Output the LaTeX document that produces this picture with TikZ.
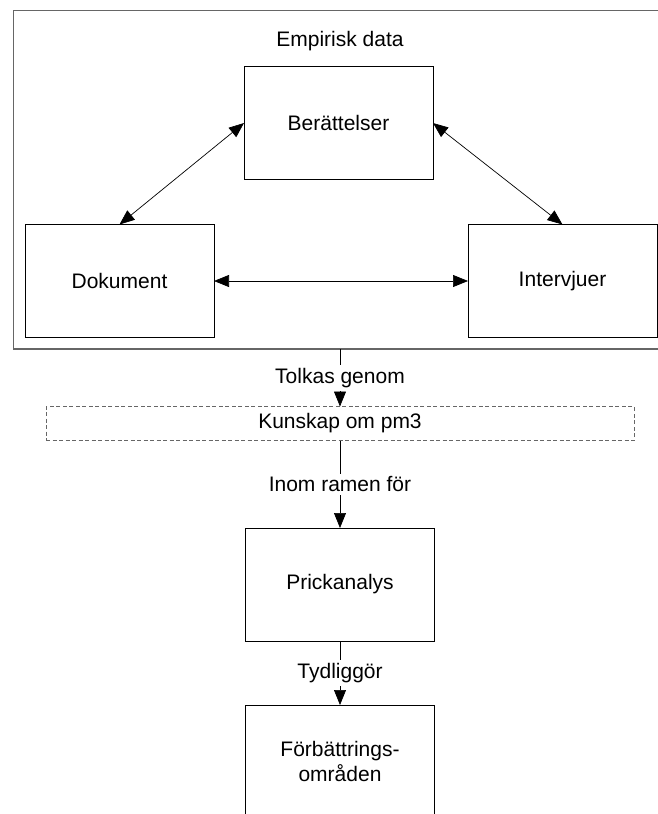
\documentclass[tikz,border=0pt]{standalone}
\usepackage{fontspec}
\setmainfont{Liberation Sans}
\usetikzlibrary{arrows.meta}
\begin{document}
\begin{tikzpicture}[x=1pt,y=-1pt,
  font=\fontsize{21}{25}\selectfont,
  every node/.style={inner sep=0pt, outer sep=0pt},
  frame/.style={draw=black!60, line width=1.4pt, rectangle},
  boxnode/.style={draw=black, line width=0.9pt, rectangle, minimum width=189pt, minimum height=113pt, align=center},
  dashbox/.style={draw=black!60, line width=0.9pt, dashed, dash pattern=on 4pt off 2.5pt, rectangle, minimum width=588pt, minimum height=34pt},
  link/.style={draw=black, line width=0.7pt},
  tip/.style={-{Triangle[length=15pt,width=12pt]}},
  biarrow/.style={{Triangle[length=15pt,width=12pt]}-{Triangle[length=15pt,width=12pt]}},
  lbl/.style={fill=white, inner sep=3pt}]
  \useasboundingbox (0,0) rectangle (658,814);
  \clip (0,0) rectangle (658,814);

  % outer frame around the data sources
  \node[frame, minimum width=654.5pt, minimum height=338.5pt] (emp) at (340.75,179.75) {};
  \node (emptitle) at (340,41) {Empirisk data};

  % data sources
  \node[boxnode] (ber) at (338.5,123) {Berättelser};
  \node[boxnode] (dok) at (119.5,281) {Dokument};
  \node[boxnode] (int) at (562.5,281) {Intervjuer};

  \draw[link, biarrow] (ber.west) -- (dok.north);
  \draw[link, biarrow] (ber.east) -- (int.north);
  \draw[link, biarrow] (dok.east) -- (int.west);

  % interpretation chain
  \node[dashbox] (kun) at (340,423.5) {Kunskap om pm3};
  \node[boxnode] (pri) at (340,584.5) {Prickanalys};
  \node[boxnode] (forb) at (340,761.5) {Förbättrings-\\områden};

  \draw[link, tip] (emp.south -| kun.north) -- node[lbl] {Tolkas genom} (kun.north);
  \draw[link, tip] (kun.south) -- node[lbl, pos=0.5] {Inom ramen för} (pri.north);
  \draw[link, tip] (pri.south) -- node[lbl] {Tydliggör} (forb.north);
\end{tikzpicture}
\end{document}
